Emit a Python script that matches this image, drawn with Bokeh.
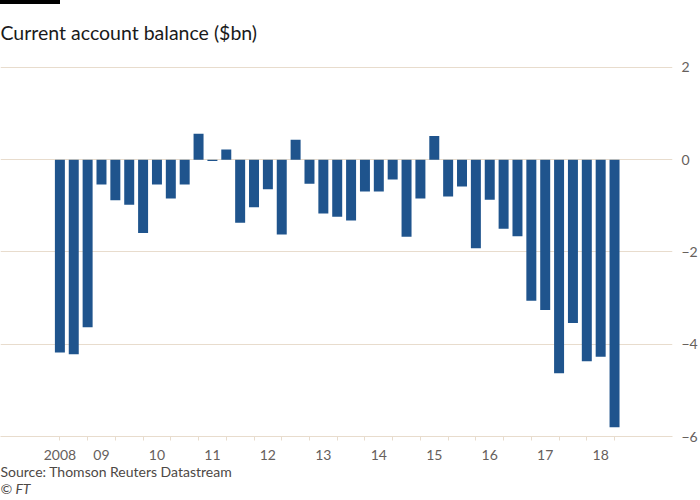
from bokeh.plotting import figure
from bokeh.models import Range1d, FixedTicker, Title, InlineStyleSheet
from bokeh.embed import file_html
from bokeh.resources import INLINE

# Quarterly current account balance ($bn), 2008 Q2 .. 2018 Q2
values = [-4.18, -4.22, -3.63, -0.54, -0.88, -0.98, -1.59, -0.54, -0.84, -0.54,
          0.56, -0.03, 0.22, -1.37, -1.03, -0.64, -1.62, 0.43, -0.52, -1.17,
          -1.24, -1.32, -0.69, -0.69, -0.43, -1.67, -0.84, 0.51, -0.80, -0.58,
          -1.92, -0.87, -1.50, -1.66, -3.06, -3.26, -4.63, -3.54, -4.37, -4.27,
          -5.80]
year_label_index = [0, 3, 7, 11, 15, 19, 23, 27, 31, 35, 39]
year_labels = ["2008", "09", "10", "11", "12", "13", "14", "15", "16", "17", "18"]
y_ticks = [-6, -4, -2, 0, 2]

title_text = "Current account balance ($bn)"
source_text = "Source: Thomson Reuters Datastream"
credit_text = "\u00a9 FT"

BAR = "#1f548d"
GRID = "#e8dccd"
TICKC = "#66605c"
FONT = "Lato"

idx = list(range(len(values)))

p = figure(width=700, height=500, output_backend="svg", toolbar_location=None,
           x_range=Range1d(-4.283, 44.18), y_range=Range1d(-6, 2.04),
           y_axis_location="right",
           min_border_left=0, min_border_right=21, min_border_top=65,
           min_border_bottom=64)
p.background_fill_color = "white"
p.border_fill_color = "white"
p.outline_line_color = None

# FT black tab at top left (pure CSS decoration)
p.stylesheets = [InlineStyleSheet(css=""":host::before { content: ''; position: absolute;
 left: 0; top: 0; width: 60px; height: 4px; background: #000; z-index: 10; }""")]

p.vbar(x=idx, top=values, bottom=0, width=0.72, fill_color=BAR, line_color=None)

# y axis (right)
p.yaxis.ticker = FixedTicker(ticks=y_ticks)
p.yaxis.axis_line_color = None
p.yaxis.major_tick_line_color = None
p.yaxis.minor_tick_line_color = None
p.yaxis.major_label_standoff = 3
p.yaxis.major_label_text_font = FONT
p.yaxis.major_label_text_font_size = "14px"
p.yaxis.major_label_text_color = TICKC
p.ygrid.ticker = FixedTicker(ticks=y_ticks)
p.ygrid.grid_line_color = GRID
p.xgrid.grid_line_color = None

# x axis (below)
xa = p.xaxis[0]
xa.ticker = FixedTicker(ticks=year_label_index, minor_ticks=[i for i in idx if i % 2 == 0])
xa.major_label_overrides = {i: s for i, s in zip(year_label_index, year_labels)}
xa.axis_line_color = GRID
xa.major_tick_line_color = None
xa.major_tick_out = 0
xa.major_tick_in = 0
xa.minor_tick_line_color = GRID
xa.minor_tick_out = 4
xa.minor_tick_in = 0
xa.major_label_standoff = 9
xa.major_label_text_font = FONT
xa.major_label_text_font_size = "14px"
xa.major_label_text_color = TICKC

# Title
p.title.text = title_text
p.title.align = "left"
p.title.vertical_align = "top"
p.title.text_font = FONT
p.title.text_font_size = "19.5px"
p.title.text_font_style = "normal"
p.title.text_color = "#1a1a1a"
p.title.text_line_height = 1.0
p.title.standoff = 39
p.title.offset = 0

# Footer texts
p.add_layout(Title(text=source_text, align="left", text_font=FONT, text_font_size="14px",
                   text_font_style="normal", text_color="#4d4845", standoff=-3), "below")
p.add_layout(Title(text=credit_text, align="left", text_font=FONT, text_font_size="14px",
                   text_font_style="italic", text_color="#4d4845", standoff=-2), "below")

open("out.html", "w").write(file_html(p, INLINE))
